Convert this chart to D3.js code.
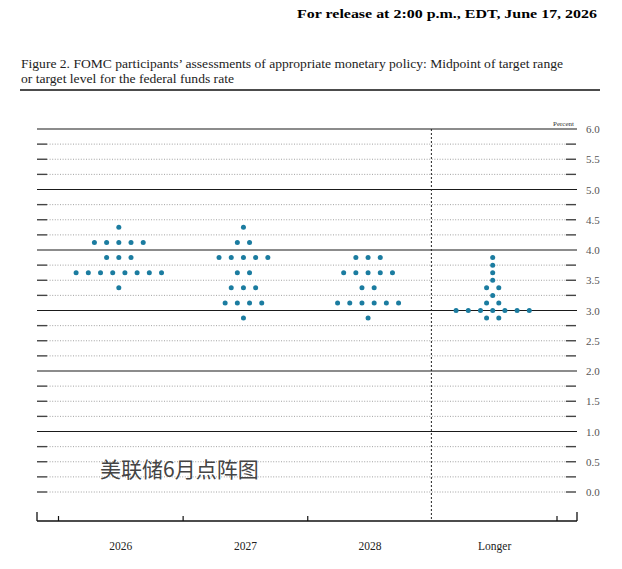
<!DOCTYPE html>
<html lang="en">
<head>
<meta charset="UTF-8">
<title>FOMC dot plot</title>
<script src="https://d3js.org/d3.v7.min.js"></script>
<style>
  body { margin: 0; background: #fff; }
  svg { display: block; }
</style>
</head>
<body>
<svg width="622" height="569"></svg>
<script>
// ---- data ----
const years = ["2026", "2027", "2028", "Longer"];
const rates = [4.375, 4.125, 3.875, 3.75, 3.625, 3.5, 3.375, 3.25, 3.125, 3.0, 2.875];
// number of participants at each rate, same order as rates
const count2026 = [1, 5, 3, 0, 8, 0, 1, 0, 0, 0, 0];
const count2027 = [1, 2, 5, 0, 2, 0, 3, 0, 4, 0, 1];
const count2028 = [0, 0, 3, 0, 5, 0, 2, 0, 6, 0, 1];
const countLonger = [0, 0, 1, 1, 1, 1, 2, 1, 2, 7, 2];
const yTicks = d3.range(0, 6.001, 0.25);
const yLabels = ["0.0", "0.5", "1.0", "1.5", "2.0", "2.5", "3.0", "3.5", "4.0", "4.5", "5.0", "5.5", "6.0"];

const counts = [count2026, count2027, count2028, countLonger];

const svg = d3.select("svg");
const serif = "'Liberation Serif', 'DejaVu Serif', serif";

// header
svg.append("text")
  .attr("x", 597).attr("y", 18)
  .attr("text-anchor", "end")
  .attr("font-family", serif).attr("font-weight", "bold").attr("font-size", 13.5)
  .attr("textLength", 300).attr("lengthAdjust", "spacingAndGlyphs")
  .text("For release at 2:00 p.m., EDT, June 17, 2026");

svg.append("text")
  .attr("x", 21).attr("y", 68)
  .attr("font-family", serif).attr("font-size", 12).attr("fill", "#222")
  .attr("textLength", 542).attr("lengthAdjust", "spacingAndGlyphs")
  .text("Figure 2. FOMC participants\u2019 assessments of appropriate monetary policy: Midpoint of target range");
svg.append("text")
  .attr("x", 21).attr("y", 83)
  .attr("font-family", serif).attr("font-size", 12).attr("fill", "#222")
  .attr("textLength", 213).attr("lengthAdjust", "spacingAndGlyphs")
  .text("or target level for the federal funds rate");
svg.append("line")
  .attr("x1", 20).attr("x2", 600).attr("y1", 90).attr("y2", 90)
  .attr("stroke", "#111").attr("stroke-width", 1.4);

// ---- scales ----
const left = 37, right = 577;
const y = d3.scaleLinear().domain([0, 6]).range([492, 129]);
const x = d3.scaleBand().domain(years).range([58.5, 557]);
const dotGap = 12.2;

// grid lines
const grid = svg.append("g");
yTicks.forEach(v => {
  const yy = y(v);
  const whole = v > 0 && Math.abs(v - Math.round(v)) < 1e-9;
  if (whole) {
    grid.append("line")
      .attr("x1", left).attr("x2", right).attr("y1", yy).attr("y2", yy)
      .attr("stroke", "#1a1a1a").attr("stroke-width", 1.2);
  } else {
    grid.append("line")
      .attr("x1", 47).attr("x2", 566).attr("y1", yy).attr("y2", yy)
      .attr("stroke", "#8a8a8a").attr("stroke-width", 0.8)
      .attr("stroke-dasharray", "1,1.6");
    grid.append("line")
      .attr("x1", left).attr("x2", 47).attr("y1", yy).attr("y2", yy)
      .attr("stroke", "#444").attr("stroke-width", 1.4);
    grid.append("line")
      .attr("x1", 566).attr("x2", 576).attr("y1", yy).attr("y2", yy)
      .attr("stroke", "#444").attr("stroke-width", 1.4);
  }
});

// right axis labels
svg.append("g").selectAll("text")
  .data(yLabels).enter().append("text")
  .attr("x", 586)
  .attr("y", d => y(+d) + 4)
  .attr("font-family", serif).attr("font-size", 11).attr("fill", "#555")
  .text(d => d);

svg.append("text")
  .attr("x", 574).attr("y", 126)
  .attr("text-anchor", "end")
  .attr("font-family", serif).attr("font-size", 7).attr("fill", "#333")
  .text("Percent");

// vertical dotted separator before "Longer"
svg.append("line")
  .attr("x1", x("Longer") - 1).attr("x2", x("Longer") - 1)
  .attr("y1", y(6)).attr("y2", 521)
  .attr("stroke", "#222").attr("stroke-width", 1)
  .attr("stroke-dasharray", "2,2");

// bottom axis
const axisY = 521;
svg.append("line")
  .attr("x1", left).attr("x2", right).attr("y1", axisY).attr("y2", axisY)
  .attr("stroke", "#111").attr("stroke-width", 1.3);
svg.append("g").selectAll("line")
  .data([left, right]).enter().append("line")
  .attr("x1", d => d).attr("x2", d => d)
  .attr("y1", axisY - 9).attr("y2", axisY)
  .attr("stroke", "#111").attr("stroke-width", 1.3);
svg.append("g").selectAll("line")
  .data(years.slice(0, 3).concat(["end"])).enter().append("line")
  .attr("x1", d => d === "end" ? x.range()[1] : x(d))
  .attr("x2", d => d === "end" ? x.range()[1] : x(d))
  .attr("y1", axisY - 5).attr("y2", axisY)
  .attr("stroke", "#111").attr("stroke-width", 1.2);

svg.append("g").selectAll("text")
  .data(years).enter().append("text")
  .attr("x", d => x(d) + x.bandwidth() / 2)
  .attr("y", 550)
  .attr("text-anchor", "middle")
  .attr("font-family", serif).attr("font-size", 11.5).attr("fill", "#222")
  .text(d => d);

// dots
const dots = [];
years.forEach((yr, j) => {
  rates.forEach((r, k) => {
    const n = counts[j][k];
    for (let i = 0; i < n; i++) dots.push({ year: yr, rate: r, off: i - (n - 1) / 2 });
  });
});
svg.append("g").selectAll("circle")
  .data(dots).enter().append("circle")
  .attr("cx", d => x(d.year) + x.bandwidth() / 2 - 2 + d.off * dotGap)
  .attr("cy", d => y(d.rate))
  .attr("r", 2.5)
  .attr("fill", "#1b7ca0");

// watermark text
svg.append("text")
  .attr("x", 100).attr("y", 477)
  .attr("font-family", "'Noto Sans CJK SC', sans-serif").attr("font-size", 21)
  .attr("fill", "#444")
  .text("美联储6月点阵图");
</script>
</body>
</html>
